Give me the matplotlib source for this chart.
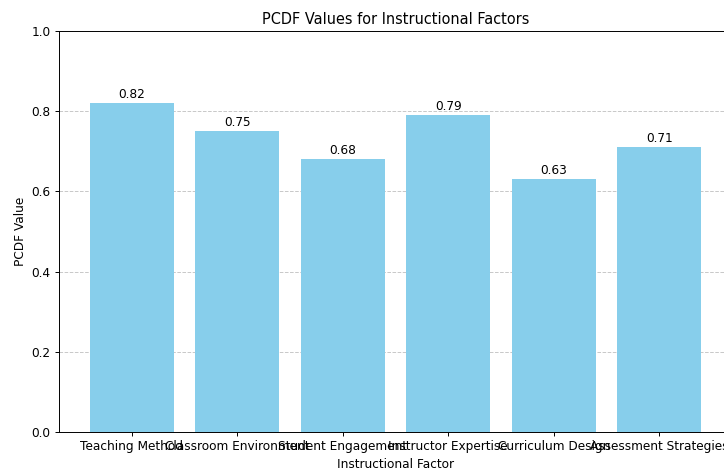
import matplotlib
matplotlib.use("Agg")
import matplotlib.pyplot as plt

factors = ["Teaching Method", "Classroom Environment", "Student Engagement",
           "Instructor Expertise", "Curriculum Design", "Assessment Strategies"]
pcdf_values = [0.82, 0.75, 0.68, 0.79, 0.63, 0.71]

# reference looks like a bigger figure shrunk down, so scale text and lines
s = 0.87
plt.rcParams.update({
    "font.size": 10 * s,
    "axes.linewidth": 0.8 * s,
    "xtick.major.size": 3.5 * s,
    "ytick.major.size": 3.5 * s,
    "xtick.major.width": 0.8 * s,
    "ytick.major.width": 0.8 * s,
    "xtick.major.pad": 3.5 * s,
    "ytick.major.pad": 3.5 * s,
    "axes.labelpad": 4.0 * s,
    "axes.titlepad": 6.0 * s,
})

fig = plt.figure(figsize=(7.24, 4.70), dpi=100)
# axes run past the right edge, as in the reference crop
ax = fig.add_axes([59 / 724, 38 / 470, 673 / 724, 401 / 470])

bars = ax.bar(factors, pcdf_values, color="skyblue")
for bar, val in zip(bars, pcdf_values):
    ax.text(bar.get_x() + bar.get_width() / 2, val + 0.005, f"{val:.2f}",
            ha="center", va="bottom")

ax.set_ylim(0, 1.0)
ax.set_xlabel("Instructional Factor")
ax.set_ylabel("PCDF Value")
ax.set_title("PCDF Values for Instructional Factors", fontsize=12 * s)
ax.yaxis.grid(True, linestyle="--", alpha=0.7, linewidth=0.8 * s)
ax.set_axisbelow(True)

fig.savefig("out.png", dpi=100)
